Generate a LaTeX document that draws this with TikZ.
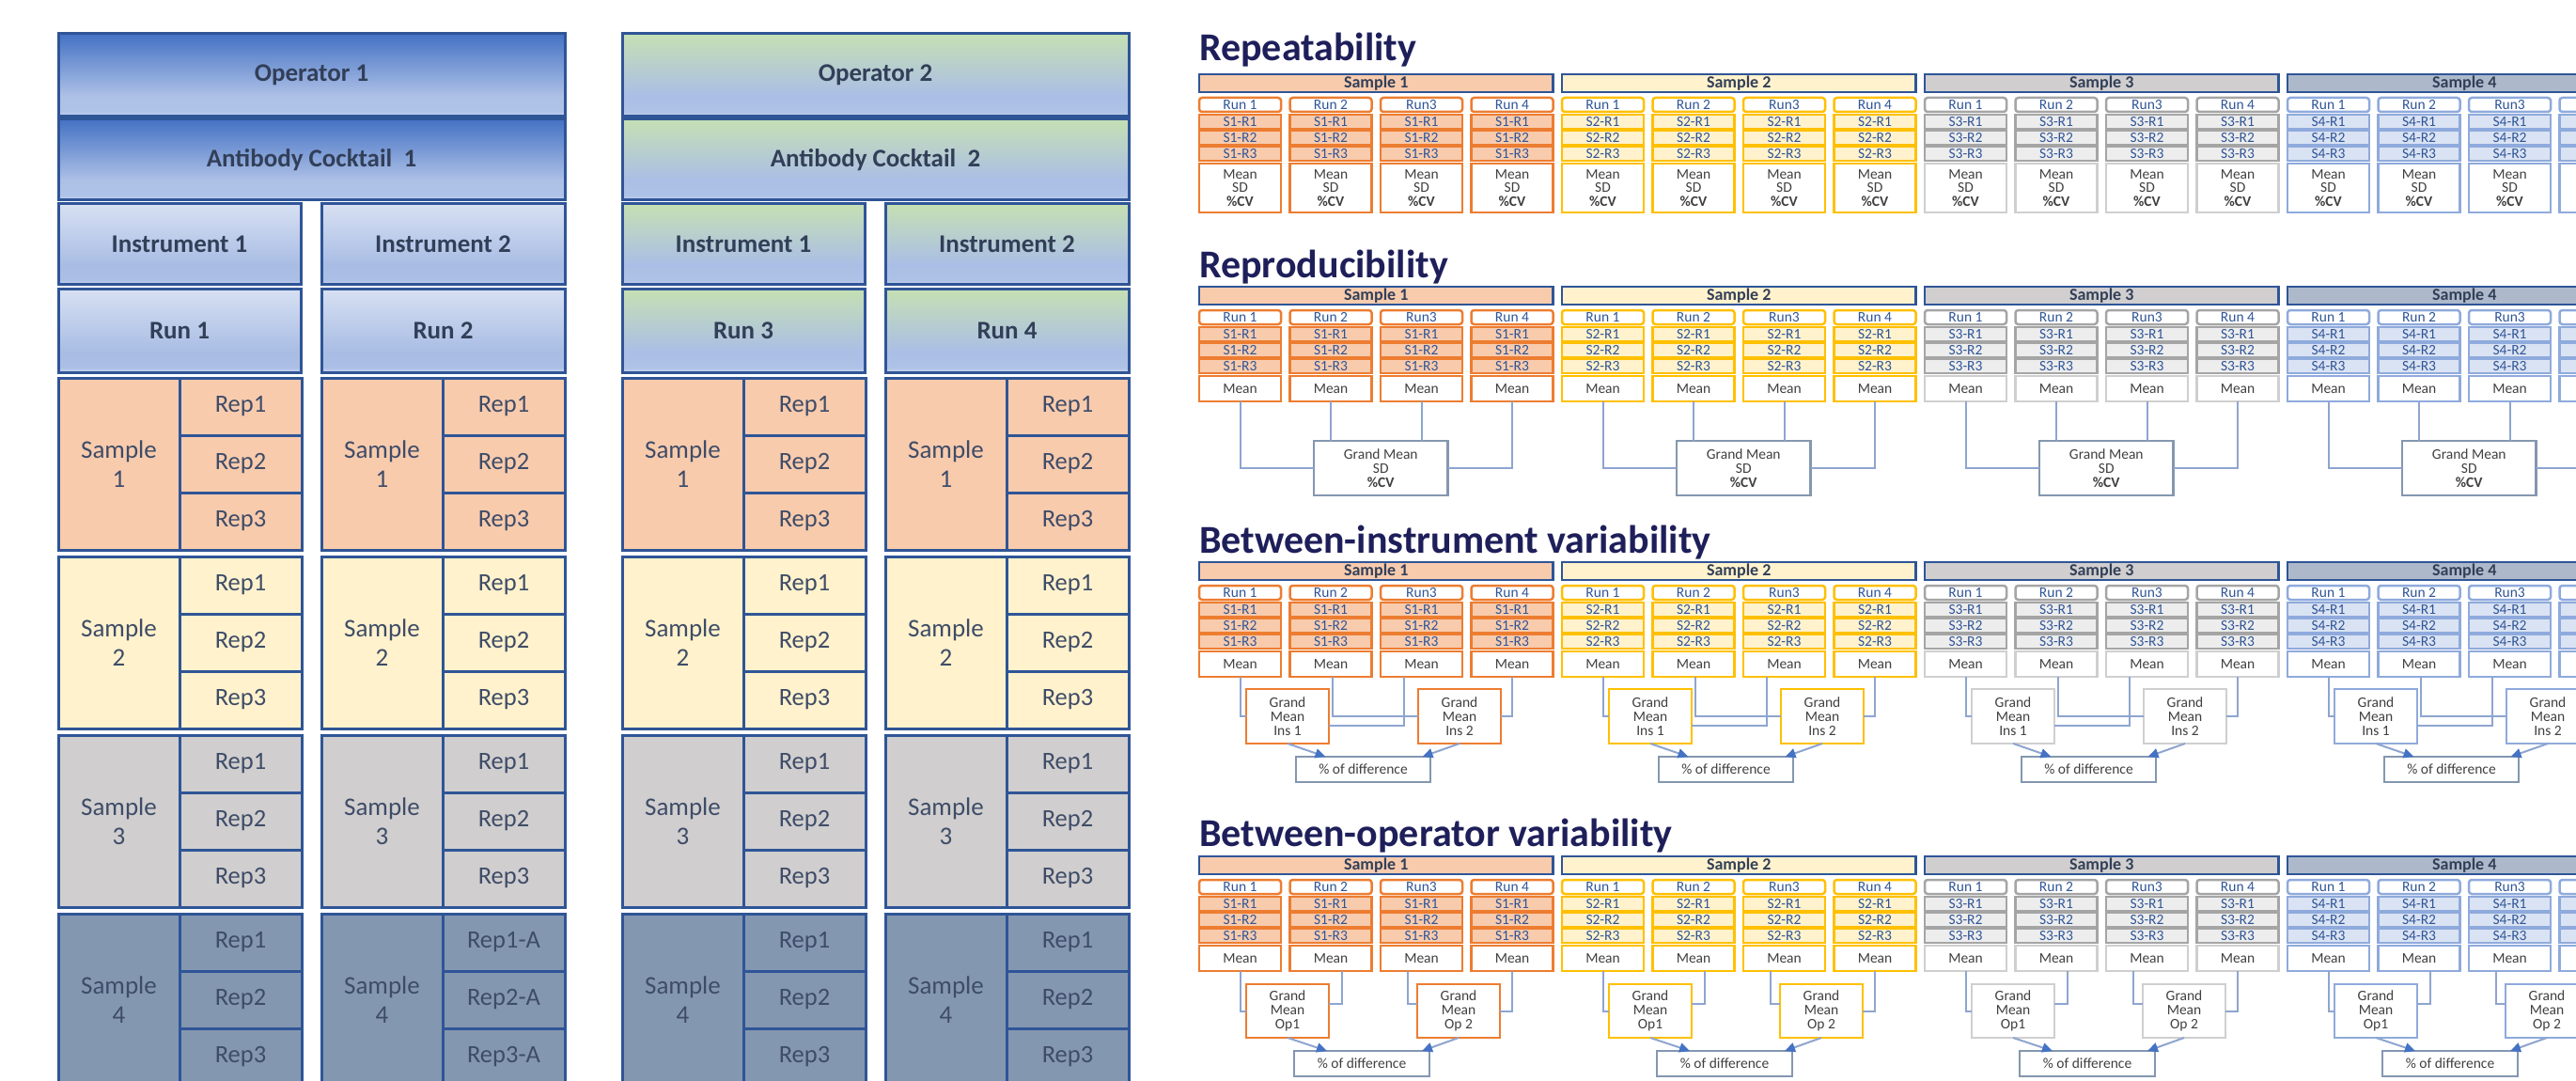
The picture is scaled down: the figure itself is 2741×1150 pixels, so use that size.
\documentclass[tikz,border=0pt]{standalone}
\usepackage{fontspec}
\setmainfont{Carlito}
\usetikzlibrary{arrows.meta}

% frame and text colours
\definecolor{frameblue}{HTML}{2F5597}
\definecolor{labeltxt}{HTML}{323F58}
\definecolor{sampletxt}{HTML}{3E4C68}
\definecolor{titletxt}{HTML}{1E1F5A}
\definecolor{runtxt}{HTML}{2F5597}
\definecolor{bodytxt}{HTML}{404040}
\definecolor{connline}{HTML}{8EA5CF}
\definecolor{arrowblue}{HTML}{4472C4}
\definecolor{gmedge}{HTML}{8497B0}
% sample colours, left panel
\definecolor{lf1}{HTML}{F8CBAD}
\definecolor{lf2}{HTML}{FFF2CC}
\definecolor{lf3}{HTML}{D0CECE}
\definecolor{lf4}{HTML}{8497B0}
% sample colours, right panel: header fill, edge, row fill, mean edge
\definecolor{h1}{HTML}{F8CBAD}\definecolor{h2}{HTML}{FFF2CC}
\definecolor{h3}{HTML}{D0CECE}\definecolor{h4}{HTML}{ADB9CA}
\definecolor{e1}{HTML}{ED7D31}\definecolor{e2}{HTML}{FFC000}
\definecolor{e3}{HTML}{A5A5A5}\definecolor{e4}{HTML}{8FAADC}
\definecolor{r1}{HTML}{F8CBAD}\definecolor{r2}{HTML}{FFF2CC}
\definecolor{r3}{HTML}{EDEDED}\definecolor{r4}{HTML}{DAE3F3}
\definecolor{m1}{HTML}{ED7D31}\definecolor{m2}{HTML}{FFC000}
\definecolor{m3}{HTML}{CFCFCF}\definecolor{m4}{HTML}{8FAADC}
% gradient stops
\definecolor{opAbot}{HTML}{CCD8F0}\definecolor{opAlow}{HTML}{AFC2E7}
\definecolor{opAmid}{HTML}{ADC0E6}\definecolor{opAtop}{HTML}{4472C4}
\definecolor{inAbot}{HTML}{C8D5EE}\definecolor{inAlow}{HTML}{ABBEE5}
\definecolor{inAmid}{HTML}{A9BDE4}\definecolor{inAtop}{HTML}{D7E0F2}
\definecolor{opBbot}{HTML}{C8D5EE}\definecolor{opBlow}{HTML}{AEC1E6}
\definecolor{opBmid}{HTML}{ABBEE5}\definecolor{opBtop}{HTML}{C5E0B4}

\pgfdeclareverticalshading{opone}{100bp}{color(0bp)=(opAbot); color(25bp)=(opAbot); color(28bp)=(opAlow); color(37.5bp)=(opAmid); color(75bp)=(opAtop); color(100bp)=(opAtop)}
\pgfdeclareverticalshading{instone}{100bp}{color(0bp)=(inAbot); color(25bp)=(inAbot); color(28bp)=(inAlow); color(37.5bp)=(inAmid); color(75bp)=(inAtop); color(100bp)=(inAtop)}
\pgfdeclareverticalshading{optwo}{100bp}{color(0bp)=(opBbot); color(25bp)=(opBbot); color(28bp)=(opBlow); color(37.5bp)=(opBmid); color(75bp)=(opBtop); color(100bp)=(opBtop)}

\tikzset{
  cell/.style={draw=frameblue, line width=3pt, inner sep=0pt, outer sep=0pt, rectangle},
  lvlone/.style={cell, shading=opone, font=\fontsize{27}{30}\selectfont\bfseries, text=labeltxt},
  lvlinst/.style={cell, shading=instone, font=\fontsize{27}{30}\selectfont\bfseries, text=labeltxt},
  lvltwo/.style={cell, shading=optwo, font=\fontsize{27}{30}\selectfont\bfseries, text=labeltxt},
  smpcell/.style={cell, font=\fontsize{27}{31}\selectfont, text=sampletxt, align=center},
  repcell/.style={cell, font=\fontsize{26.5}{30}\selectfont, text=sampletxt},
  titletext/.style={inner sep=0pt, font=\fontsize{42}{44}\selectfont\bfseries, text=titletxt},
  hdrbox/.style={draw=frameblue, line width=2.5pt, inner sep=0pt, outer sep=0pt, font=\fontsize{18}{20}\selectfont\bfseries, text=labeltxt},
  runbox/.style={draw, rounded corners=3pt, fill=white, line width=2.5pt, inner sep=0pt, outer sep=0pt, font=\fontsize{15.5}{16}\selectfont, text=runtxt},
  rowbox/.style={draw, line width=2.5pt, inner sep=0pt, outer sep=0pt, font=\fontsize{15.5}{16}\selectfont, text=runtxt},
  meanbox/.style={draw, fill=white, line width=2.5pt, inner sep=0pt, outer sep=0pt, font=\fontsize{15.5}{14.8}\selectfont, text=bodytxt, align=center},
  gmbox/.style={draw, fill=white, line width=2.5pt, inner sep=0pt, outer sep=0pt, font=\fontsize{15.5}{15}\selectfont, text=bodytxt, align=center},
  conn/.style={draw=connline, line width=2pt},
  arr/.style={conn, -{Triangle[length=11pt,width=10pt,color=arrowblue]}},
}

% box from its corners: name, style, x1, y1, x2, y2, text
\newcommand\bx[7]{%
  \pgfmathsetmacro\bxcx{((#3)+(#5))/2}%
  \pgfmathsetmacro\bxcy{((#4)+(#6))/2}%
  \pgfmathsetmacro\bxw{(#5)-(#3)}%
  \pgfmathsetmacro\bxh{(#6)-(#4)}%
  \node[#2, minimum width=\bxw pt, minimum height=\bxh pt] (#1) at (\bxcx,\bxcy) {#7};}

\begin{document}
\begin{tikzpicture}[x=1pt,y=-1pt]
\useasboundingbox (0,0) rectangle (2741,1150);
\fill[white] (0,0) rectangle (2741,1150);
\clip (0,0) rectangle (2741,1150);

% ---------- Operator 1 ----------
\bx{opA}{lvlone}{62}{36}{601}{124}{Operator 1}
\bx{abA}{lvlone}{62}{127}{601}{213}{Antibody Cocktail\ \ 1}
\bx{opAinA}{lvlinst}{62}{217}{320}{303}{Instrument 1}
\bx{opAinB}{lvlinst}{342}{217}{601}{303}{Instrument 2}
\bx{runA}{lvlinst}{62}{308}{320}{396}{Run 1}
\bx{runB}{lvlinst}{342}{308}{601}{396}{Run 2}

% ---------- Operator 2 ----------
\bx{opB}{lvltwo}{662}{36}{1201}{124}{Operator 2}
\bx{abB}{lvltwo}{662}{127}{1201}{213}{Antibody Cocktail\ \ 2}
\bx{opBinA}{lvltwo}{662}{217}{920}{303}{Instrument 1}
\bx{opBinB}{lvltwo}{942}{217}{1201}{303}{Instrument 2}
\bx{runC}{lvltwo}{662}{308}{920}{396}{Run 3}
\bx{runD}{lvltwo}{942}{308}{1201}{396}{Run 4}

% ---------- sample / replicate grids under each run ----------
\foreach \rn/\L in {1/62, 2/342, 3/662, 4/942}{
  \foreach \k in {1,2,3,4}{
    \pgfmathsetmacro\T{402+190*(\k-1)}
    \bx{grid\rn s\k}{smpcell, fill=lf\k}{\L}{\T}{\L+129}{\T+183}{Sample\\\k}
    \foreach \r in {1,2,3}{
      \bx{grid\rn s\k rep\r}{repcell, fill=lf\k}{\L+129}{\T+61*(\r-1)}{\L+259}{\T+61*\r}{Rep\r\ifnum\rn=2 \ifnum\k=4 -A\fi\fi}
    }
  }
}

% ---------- section titles ----------
\node[titletext, anchor=base west] (tA) at (1276,65) {Repeatability};
\node[titletext, anchor=base west] (tB) at (1276,295) {Reproducibility};
\node[titletext, anchor=base west] (tC) at (1276,588) {Between-instrument variability};
\node[titletext, anchor=base west] (tD) at (1276,900) {Between-operator variability};

% ---------- sample tables of each section ----------
\foreach \sec/\H/\mh in {A/79/52, B/305/27, C/598/27, D/911/27}{
  \foreach \s in {1,2,3,4}{
    \pgfmathsetmacro\xs{1276+386*(\s-1)}
    \bx{\sec hdr\s}{hdrbox, fill=h\s}{\xs}{\H}{\xs+376.5}{\H+19}{Sample \s}
    \ifnum\mh>30 \def\meantext{Mean\\SD\\\textbf{\%CV}}\else\def\meantext{Mean}\fi
    \foreach \i in {1,2,3,4}{
      \pgfmathsetmacro\xl{\xs+96.5*(\i-1)}
      \bx{\sec\s run\i}{runbox, draw=e\s}{\xl}{\H+25}{\xl+87}{\H+40}{Run\ifnum\i=3\else\ \fi\i}
      \foreach \r in {1,2,3}{
        \bx{\sec\s c\i r\r}{rowbox, draw=e\s, fill=r\s}{\xl}{\H+26+17*\r}{\xl+87}{\H+41+17*\r}{S\s-R\r}
      }
      \bx{\sec\s mean\i}{meanbox, draw=m\s}{\xl}{\H+95}{\xl+87}{\H+95+\mh}{\meantext}
    }
  }
}

% ---------- grand means and differences ----------
\foreach \s in {1,2,3,4}{
  \pgfmathsetmacro\xs{1276+386*(\s-1)}
  % reproducibility
  \bx{Bgm\s}{gmbox, draw=gmedge}{\xs+122}{469}{\xs+264.5}{527}{Grand Mean\\SD\\\textbf{\%CV}}
  \draw[conn] (B\s mean1.south) |- (Bgm\s.west);
  \draw[conn] (B\s mean2.south) -- (B\s mean2.south |- Bgm\s.north);
  \draw[conn] (B\s mean3.south) -- (B\s mean3.south |- Bgm\s.north);
  \draw[conn] (B\s mean4.south) |- (Bgm\s.east);
  % between instruments
  \bx{Cga\s}{gmbox, draw=m\s}{\xs+50}{733}{\xs+138}{791}{Grand\\Mean\\Ins 1}
  \bx{Cgb\s}{gmbox, draw=m\s}{\xs+233}{733}{\xs+321}{791}{Grand\\Mean\\Ins 2}
  \bx{Cpd\s}{gmbox, draw=gmedge}{\xs+103}{805}{\xs+246}{832}{\% of difference}
  \draw[conn] (C\s mean1.south) |- (Cga\s.west);
  \draw[conn] ([xshift=2pt]C\s mean2.south) |- (Cgb\s.west);
  \draw[conn] ([xshift=-19pt]C\s mean3.south) |- ([yshift=-10pt]Cga\s.east);
  \draw[conn] (C\s mean4.south) |- (Cgb\s.east);
  \draw[arr] (Cga\s.south) -- ([xshift=-40pt]Cpd\s.north);
  \draw[arr] (Cgb\s.south) -- ([xshift=63pt]Cpd\s.north);
  % between operators
  \bx{Dga\s}{gmbox, draw=m\s}{\xs+50}{1047}{\xs+138}{1104}{Grand\\Mean\\Op1}
  \bx{Dgb\s}{gmbox, draw=m\s}{\xs+232}{1047}{\xs+320}{1104}{Grand\\Mean\\Op 2}
  \bx{Dpd\s}{gmbox, draw=gmedge}{\xs+101}{1118}{\xs+245}{1145}{\% of difference}
  \draw[conn] (D\s mean1.south) |- (Dga\s.west);
  \draw[conn] ([xshift=12pt]D\s mean2.south) |- ([yshift=8pt]Dga\s.east);
  \draw[conn] ([xshift=-14.5pt]D\s mean3.south) |- ([yshift=8pt]Dgb\s.west);
  \draw[conn] (D\s mean4.south) |- (Dgb\s.east);
  \draw[arr] (Dga\s.south) -- ([xshift=-37pt]Dpd\s.north);
  \draw[arr] (Dgb\s.south) -- ([xshift=64pt]Dpd\s.north);
}
\end{tikzpicture}
\end{document}
